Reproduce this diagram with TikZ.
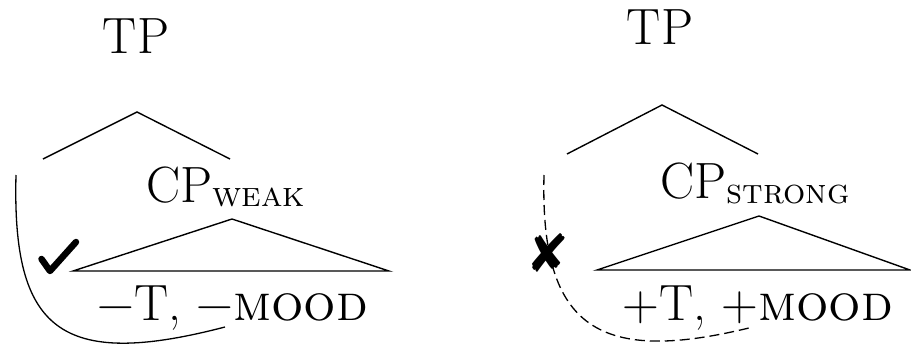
\documentclass[tikz,border=0pt]{standalone}
\usepackage{pifont}
\newcommand\cpsub[2]{\raisebox{-#1}{\fontsize{35}{36}\selectfont\textsc{#2}}}
\tikzset{
  lbl/.style={inner sep=0pt, font=\fontsize{51}{60}\selectfont},
  roof/.style={line width=1.4pt},
  link/.style={line width=1.3pt},
  glyph/.style={inner sep=0pt, font=\fontsize{#1}{#1}\selectfont},
  tick/.style={line width=6.5pt, line cap=round, line join=round},
}
\begin{document}
\begin{tikzpicture}[x=1pt,y=-1pt]
\useasboundingbox (0,0) rectangle (911,348);
% ---------- left tree ----------
\node[lbl,anchor=base] (tp1) at (136,53) {TP};
\coordinate (r1l) at (43,159);
\coordinate (r1a) at (137,112);
\coordinate (r1r) at (230,159);
\draw[roof] (r1l) -- (r1a) -- (r1r);
\node[lbl,anchor=base west] (cp1) at (146,202) {CP\cpsub{4pt}{weak}};
\coordinate (t1l) at (73,271);
\coordinate (t1a) at (232,219);
\coordinate (t1r) at (389,271);
\draw[roof] (t1l) -- (t1a) -- (t1r) -- cycle;
\node[lbl,anchor=base] (f1) at (233,320) {−T, −\textsc{mood}};
\coordinate (k1) at (41.5,259);
\coordinate (k2) at (50,271);
\coordinate (k3) at (76,242);
\draw[tick] (k1) -- (k2) -- (k3);
\coordinate (s1) at (16,175);
\coordinate (e1) at (225,327);
\draw[link] (s1) .. controls (12,330) and (60,370) .. (e1);
% ---------- right tree ----------
\node[lbl,anchor=base] (tp2) at (660,45) {TP};
\coordinate (r2l) at (567,154);
\coordinate (r2a) at (662,105);
\coordinate (r2r) at (758,154);
\draw[roof] (r2l) -- (r2a) -- (r2r);
\node[lbl,anchor=base west] (cp2) at (660,198) {CP\cpsub{5pt}{strong}};
\coordinate (t2l) at (597,270);
\coordinate (t2a) at (759,216);
\coordinate (t2r) at (910,270);
\draw[roof] (t2l) -- (t2a) -- (t2r) -- cycle;
\node[lbl,anchor=base] (f2) at (758,320) {+T, +\textsc{mood}};
\coordinate (s2) at (544,175);
\coordinate (e2) at (753,327);
\draw[link,dash pattern=on 10pt off 5pt] (s2) .. controls (540,330) and (600,365) .. (e2);
\node[glyph=54] (no) at (549,253) {\ding{56}};
\end{tikzpicture}
\end{document}
